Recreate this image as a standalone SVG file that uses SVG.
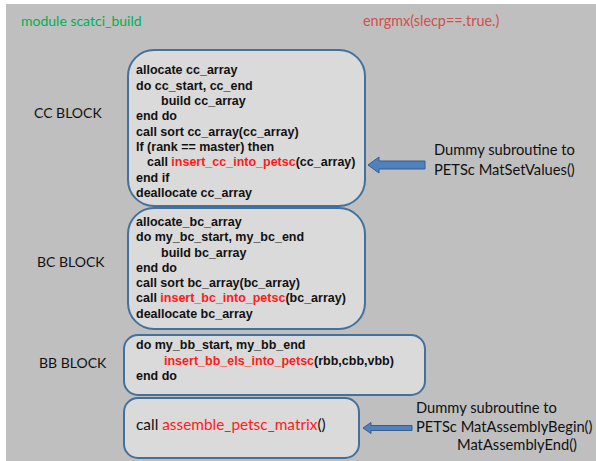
<svg xmlns="http://www.w3.org/2000/svg" width="596" height="461" viewBox="0 0 596 461">
<style>
.box{fill:#dadada;stroke:#41719c;stroke-width:2}
.code{font-family:"Liberation Sans",Arial,sans-serif;font-weight:bold;font-size:12.5px;fill:#111}
.red{fill:#ff1a1a}
.cal{font-family:Lato,"Liberation Sans",sans-serif;font-size:14px;fill:#111}
.note{font-size:14.7px}
.arrow{fill:#4f81bd;stroke:#385d8a;stroke-width:1}
</style>
<rect x="6" y="4" width="590" height="457" fill="#bfbfbf"/>
<text class="cal" x="21" y="26" style="fill:#00b050">module scatci_build</text>
<text class="cal" x="363" y="26" style="fill:#d0504d;font-size:14.4px">enrgmx(slecp==.true.)</text>
<text class="cal" x="34" y="118">CC BLOCK</text>
<text class="cal" x="37" y="267">BC BLOCK</text>
<text class="cal" x="39" y="368">BB BLOCK</text>
<g id="cc">
<rect class="box" x="128" y="50" width="237" height="156" rx="26"/>
<text class="code" x="136" y="74">allocate cc_array</text>
<text class="code" x="136" y="89.5">do cc_start, cc_end</text>
<text class="code" x="161" y="105">build cc_array</text>
<text class="code" x="136" y="120">end do</text>
<text class="code" x="136" y="135.5">call sort cc_array(cc_array)</text>
<text class="code" x="136" y="151">If (rank == master) then</text>
<text class="code" x="147" y="166">call <tspan class="red">insert_cc_into_petsc</tspan>(cc_array)</text>
<text class="code" x="136" y="181.5">end if</text>
<text class="code" x="136" y="197">deallocate cc_array</text>
</g>
<g id="bc">
<rect class="box" x="128" y="208" width="237" height="121" rx="26"/>
<text class="code" x="136" y="226">allocate_bc_array</text>
<text class="code" x="136" y="241">do my_bc_start, my_bc_end</text>
<text class="code" x="161" y="256.5">build bc_array</text>
<text class="code" x="136" y="271.5">end do</text>
<text class="code" x="136" y="287">call sort bc_array(bc_array)</text>
<text class="code" x="136" y="302">call <tspan class="red">insert_bc_into_petsc</tspan>(bc_array)</text>
<text class="code" x="136" y="317.5">deallocate bc_array</text>
</g>
<g id="bb">
<rect class="box" x="124" y="335" width="301" height="60" rx="14"/>
<text class="code" x="136" y="348.5">do my_bb_start, my_bb_end</text>
<text class="code" x="164" y="365"><tspan class="red">insert_bb_els_into_petsc</tspan>(rbb,cbb,vbb)</text>
<text class="code" x="136" y="379.5">end do</text>
</g>
<g id="assemble">
<rect class="box" x="124" y="398" width="235" height="60" rx="14"/>
<text class="cal" x="136" y="430" style="font-size:15.4px">call <tspan style="fill:#ff1a1a">assemble_petsc_matrix</tspan>()</text>
</g>
<g id="connectors">
<path class="arrow" d="M368,165 L379,157 L379,161 L425,161 L425,169 L379,169 L379,173 Z"/>
<path class="arrow" d="M363,428 L371,422.5 L371,425.5 L412,425.5 L412,430.5 L371,430.5 L371,433.5 Z"/>
</g>
<text class="cal note" x="434" y="155">Dummy subroutine to</text>
<text class="cal note" x="434" y="175">PETSc MatSetValues()</text>
<text class="cal note" x="416" y="413">Dummy subroutine to</text>
<text class="cal note" x="416" y="432">PETSc MatAssemblyBegin()</text>
<text class="cal note" x="457" y="450">MatAssemblyEnd()</text>
</svg>
